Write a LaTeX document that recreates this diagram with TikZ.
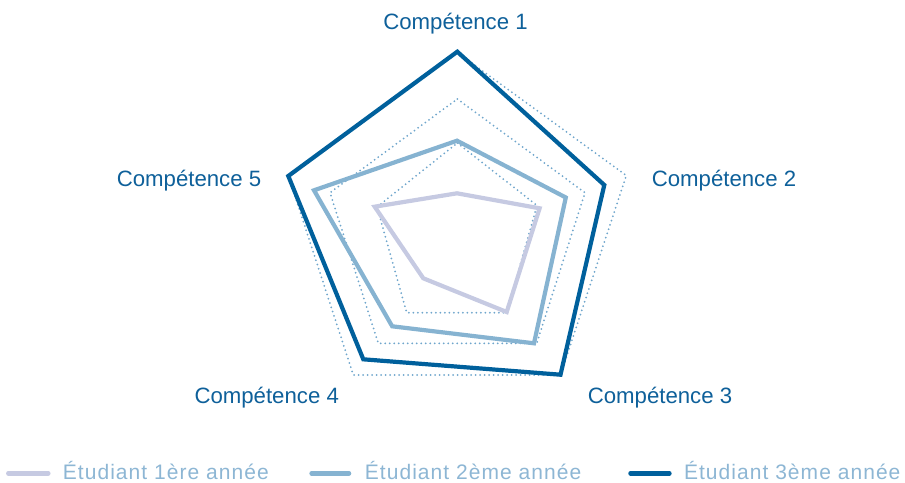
\documentclass[tikz,border=0pt]{standalone}
\usepackage{fontspec}
\setmainfont{Liberation Sans}
\newfontfamily\legfont[LetterSpace=5]{Liberation Sans}
\definecolor{darkb}{HTML}{00609C}
\definecolor{midb}{HTML}{86B3D1}
\definecolor{lav}{HTML}{C6CAE2}
\definecolor{gridb}{HTML}{6FA6CC}
\definecolor{labc}{HTML}{0E609A}
\definecolor{legc}{HTML}{8DB6D4}
\tikzset{
  gridring/.style={draw=gridb, line width=2pt, dash pattern=on 0pt off 4.5pt, line cap=round},
  serie/.style={line width=4.2pt, line join=miter},
  axlabel/.style={anchor=base, inner sep=0pt, text=labc, font=\fontsize{22.2}{26}\selectfont},
  legtext/.style={anchor=base west, inner sep=0pt, text depth=0pt, text=legc, font=\legfont\fontsize{21}{25}\selectfont},
  legline/.style={line width=4.5pt, line cap=round}
}
\begin{document}
\begin{tikzpicture}[x=1pt,y=-1pt]
\useasboundingbox (0,0) rectangle (905,482);
% grid rings
\draw[gridring] (457.3,52.5) -- (626.3,175.5) -- (560.5,375) -- (353.3,375) -- (288.3,175.5) -- cycle;
\draw[gridring] (457.3,99) -- (585,192.7) -- (536.7,343.3) -- (378.3,343.3) -- (330,192.7) -- cycle;
\draw[gridring] (457.3,143) -- (537,205.5) -- (506.7,312.7) -- (406.7,312.7) -- (377,207) -- cycle;
% series 1
\coordinate (a1) at (457,193.3);
\coordinate (a2) at (539.6,208.3);
\coordinate (a3) at (506.7,312);
\coordinate (a4) at (423.3,278.3);
\coordinate (a5) at (374.7,206.7);
\draw[serie, lav] (a1) -- (a2) -- (a3) -- (a4) -- (a5) -- cycle;
% series 2
\coordinate (b1) at (457,140.7);
\coordinate (b2) at (565.8,197.5);
\coordinate (b3) at (534,343.3);
\coordinate (b4) at (392.2,326.3);
\coordinate (b5) at (314,190.3);
\draw[serie, midb] (b1) -- (b2) -- (b3) -- (b4) -- (b5) -- cycle;
% series 3
\coordinate (c1) at (457.3,51.7);
\coordinate (c2) at (604.3,185);
\coordinate (c3) at (560.5,374.7);
\coordinate (c4) at (363.3,359.3);
\coordinate (c5) at (288.3,176);
\draw[serie, darkb] (c1) -- (c2) -- (c3) -- (c4) -- (c5) -- cycle;
% axis labels
\node[axlabel] (l1) at (455.5,29.3) {Compétence 1};
\node[axlabel] (l2) at (724,186) {Compétence 2};
\node[axlabel] (l3) at (660,403.3) {Compétence 3};
\node[axlabel] (l4) at (266.7,403.3) {Compétence 4};
\node[axlabel] (l5) at (189,186) {Compétence 5};
% legend
\coordinate (k1a) at (8.3,473.3); \coordinate (k1b) at (48.3,473.3);
\coordinate (k2a) at (311.6,473.3); \coordinate (k2b) at (349,473.3);
\coordinate (k3a) at (630.5,473.3); \coordinate (k3b) at (669.4,473.3);
\draw[legline, lav] (k1a) -- (k1b);
\draw[legline, midb] (k2a) -- (k2b);
\draw[legline, darkb] (k3a) -- (k3b);
\node[legtext] (t1) at (62.7,479.3) {Étudiant 1ère année};
\node[legtext] (t2) at (364.7,479.3) {Étudiant 2ème année};
\node[legtext] (t3) at (683.8,479.3) {Étudiant 3ème année};
\end{tikzpicture}
\end{document}
